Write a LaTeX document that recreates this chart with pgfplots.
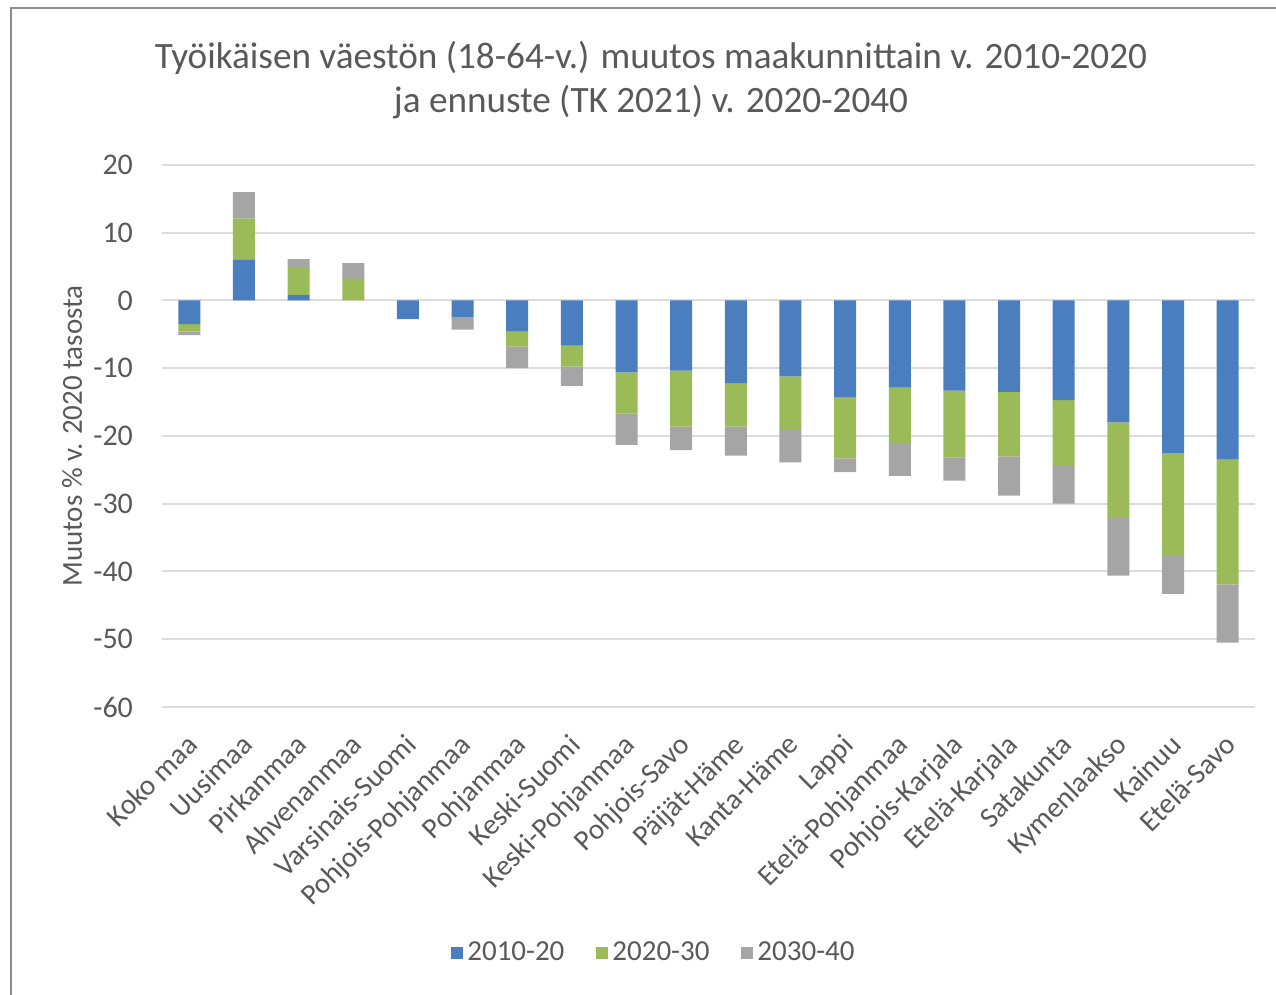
\documentclass[border=0pt]{standalone}
\usepackage{pgfplots}
\pgfplotsset{compat=1.18}
\usepackage{pgfplotstable}
\usepackage{fontspec}
\setmainfont{Carlito}
\definecolor{cblue}{HTML}{4A7EBF}
\definecolor{cgreen}{HTML}{9BBB59}
\definecolor{cgray}{HTML}{A5A5A5}
\definecolor{ctext}{HTML}{595959}
\definecolor{cgrid}{HTML}{DCDCDC}
\pgfplotstableread{
x a b c
0 -3.5 -1.1 -0.5
1 6.0 6.1 3.9
2 0.8 4.0 1.3
3 0.0 3.2 2.3
4 -2.75 0.0 0.0
5 -2.4 0.0 -1.9
6 -4.6 -2.2 -3.2
7 -6.65 -3.1 -2.85
8 -10.6 -6.05 -4.65
9 -10.35 -8.25 -3.5
10 -12.2 -6.4 -4.3
11 -11.2 -7.8 -4.9
12 -14.25 -9.05 -2.05
13 -12.85 -8.15 -4.9
14 -13.3 -9.9 -3.4
15 -13.5 -9.5 -5.8
16 -14.7 -9.6 -5.7
17 -18.0 -14.1 -8.5
18 -22.5 -15.1 -5.7
19 -23.4 -18.5 -8.6
}\datatable
\begin{document}
\begin{tikzpicture}
\useasboundingbox (0,0) rectangle (638pt,497.5pt);
\draw[color=black!45, line width=1.2pt] (5.5pt,0) -- (5.5pt,493.5pt) -- (638pt,493.5pt);
\node[align=center, font=\fontsize{18.6}{22}\selectfont, text=ctext] at (325.5pt,457.5pt)
  {Työikäisen väestön (18-64-v.) muutos maakunnittain v. 2010-2020\\ja ennuste (TK 2021) v. 2020-2040};
\begin{axis}[
  at={(81pt,144pt)}, anchor=south west,
  scale only axis, width=546.5pt, height=271pt,
  ybar stacked, bar width=11pt,
  xmin=-0.5, xmax=19.5, ymin=-60, ymax=20,
  ytick={-60,-50,...,20},
  yticklabels={-60,-50,-40,-30,-20,-10,0,10,20},
  xtick=data,
  xticklabels={Koko maa,Uusimaa,Pirkanmaa,Ahvenanmaa,Varsinais-Suomi,Pohjois-Pohjanmaa,Pohjanmaa,Keski-Suomi,Keski-Pohjanmaa,Pohjois-Savo,Päijät-Häme,Kanta-Häme,Lappi,Etelä-Pohjanmaa,Pohjois-Karjala,Etelä-Karjala,Satakunta,Kymenlaakso,Kainuu,Etelä-Savo},
  x tick label style={rotate=45, anchor=north east, font=\fontsize{14.5}{16}\selectfont, text=ctext, inner sep=1pt, xshift=-9.4pt, yshift=-6.4pt},
  y tick label style={font=\fontsize{15}{16}\selectfont, text=ctext},
  yticklabel style={xshift=-11pt},
  ymajorgrids, grid style={cgrid, line width=1pt},
  axis line style={draw=none},
  major tick style={draw=none},
  ylabel={Muutos \% v. 2020 tasosta},
  ylabel style={font=\fontsize{14.5}{16}\selectfont, text=ctext, at={(axis description cs:-0.0823,0.5)}, anchor=center},
  legend columns=3,
  legend style={at={(0.451,-0.454)}, anchor=center, draw=none, fill=none,
    font=\fontsize{14.5}{16}\selectfont, text=ctext,
    /tikz/every even column/.append style={column sep=14pt}},
  legend image code/.code={\fill[#1] (0pt,-3.2pt) rectangle (6pt,3.2pt);},
]
\addplot[fill=cblue, draw=none] table[x=x, y=a] {\datatable};
\addplot[fill=cgreen, draw=none] table[x=x, y=b] {\datatable};
\addplot[fill=cgray, draw=none] table[x=x, y=c] {\datatable};
\legend{2010-20,2020-30,2030-40}
\end{axis}
\end{tikzpicture}
\end{document}
